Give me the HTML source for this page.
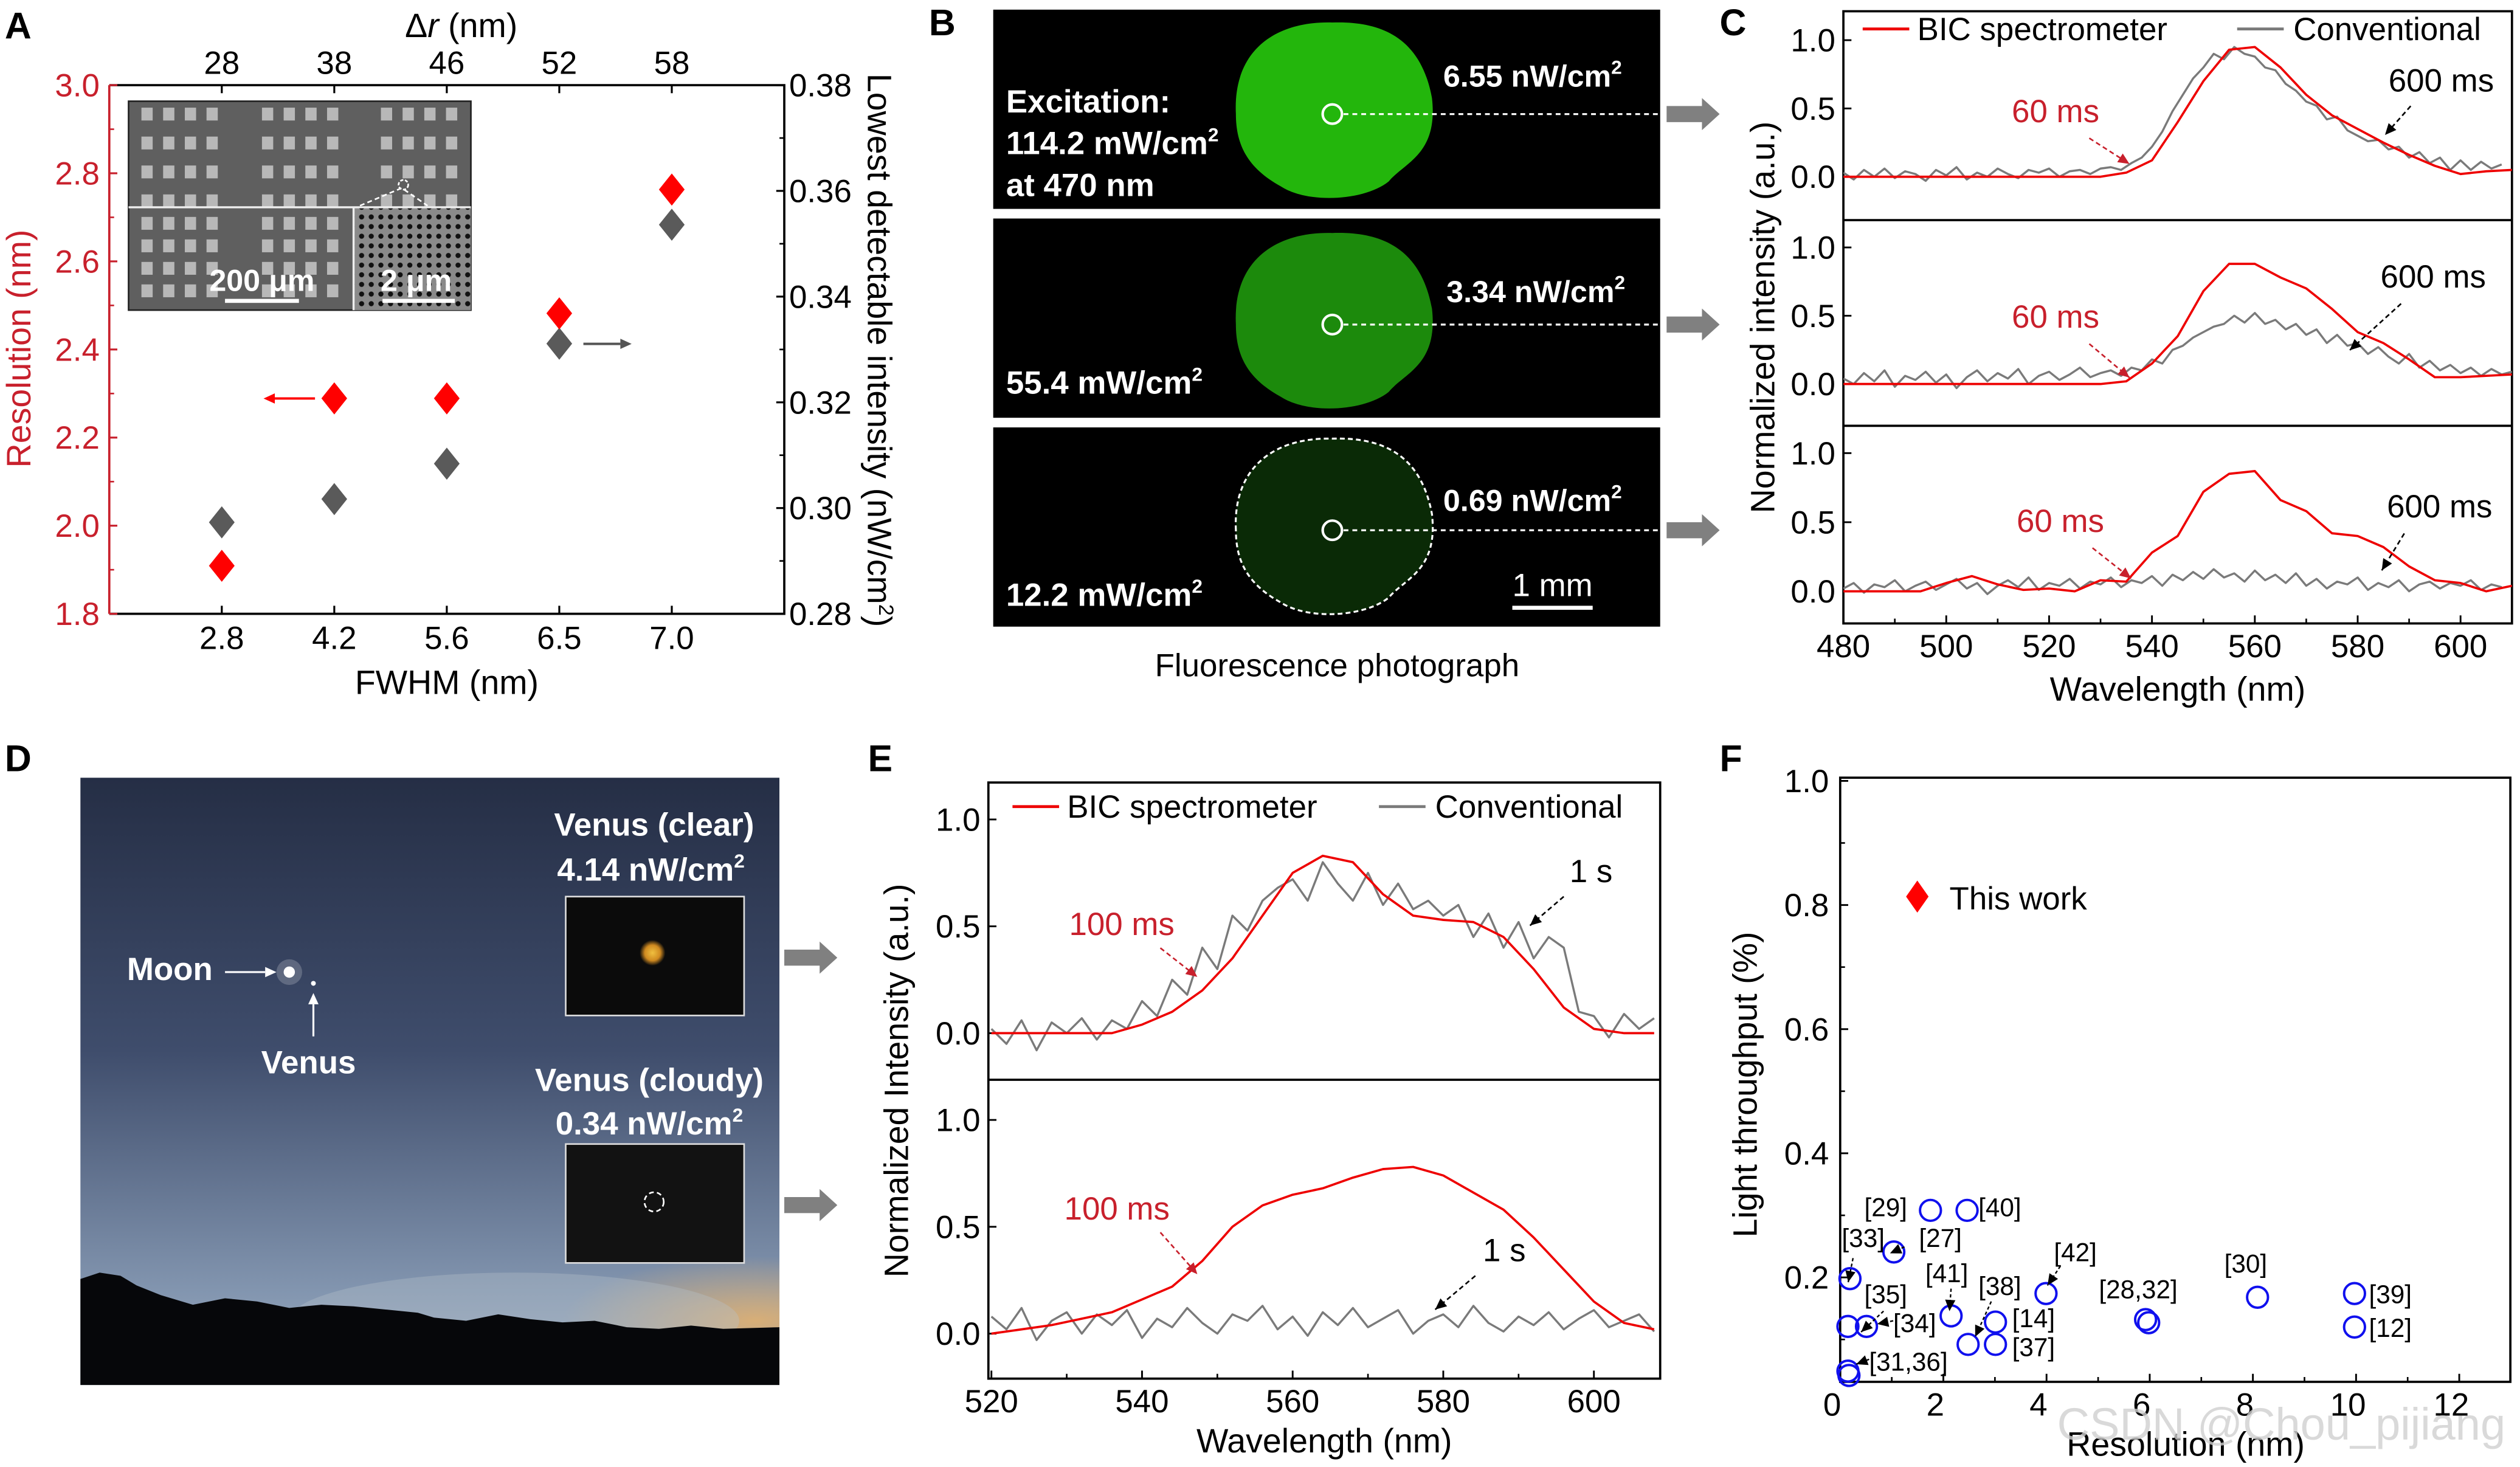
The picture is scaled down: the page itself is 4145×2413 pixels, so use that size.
<!DOCTYPE html>
<html><head><meta charset="utf-8">
<style>
html,body{margin:0;padding:0;background:#fff;}
svg{display:block;font-family:"Liberation Sans",Arial,sans-serif;}
</style></head>
<body>
<svg id="fig" xmlns="http://www.w3.org/2000/svg" width="4145" height="2413" viewBox="0 0 1568 913" preserveAspectRatio="none">
<defs>
  <linearGradient id="sky" x1="0" y1="0" x2="0" y2="1">
    <stop offset="0" stop-color="#252e45"/>
    <stop offset="0.45" stop-color="#3f4d6c"/>
    <stop offset="0.85" stop-color="#8396b0"/>
    <stop offset="1" stop-color="#a0aec0"/>
  </linearGradient>
  <radialGradient id="glow" cx="0.5" cy="0.5" r="0.5">
    <stop offset="0" stop-color="#e0b070" stop-opacity="0.9"/>
    <stop offset="1" stop-color="#e0b070" stop-opacity="0"/>
  </radialGradient>
  <radialGradient id="venus" cx="0.5" cy="0.5" r="0.5">
    <stop offset="0" stop-color="#f0c040"/>
    <stop offset="0.6" stop-color="#d08a20"/>
    <stop offset="1" stop-color="#d08a20" stop-opacity="0"/>
  </radialGradient>
  <pattern id="holes" width="6" height="6" patternUnits="userSpaceOnUse">
    <rect width="6" height="6" fill="#8a8a8a"/>
    <circle cx="3" cy="3" r="1.6" fill="#111"/>
  </pattern>
  <clipPath id="clipC"><rect x="1147" y="7" width="416" height="381"/></clipPath>
  <clipPath id="clipE"><rect x="615" y="487" width="418" height="371"/></clipPath>
  <clipPath id="clipD"><rect x="50" y="484" width="435" height="378"/></clipPath>
</defs>
<g id="root"></g>
</svg>
<script>
// ---------- DATA ----------
// Panel A
const aCats = ['2.8','4.2','5.6','6.5','7.0'];
const aTopCats = ['28','38','46','52','58'];
const aResolution = [1.909, 2.289, 2.289, 2.482, 2.763];
const aIntensity = [0.2973, 0.3017, 0.3084, 0.3311, 0.3536];
const aLeftTicks = [1.8, 2.0, 2.2, 2.4, 2.6, 2.8, 3.0];
const aRightTicks = [0.28, 0.30, 0.32, 0.34, 0.36, 0.38];
// Panel C (3 stacked spectra)
const cRedX = [480,485,490,495,500,505,510,515,520,525,530,535,540,545,550,555,560,565,570,575,580,585,590,595,600,605,610];
const cRed1 = [0,0,0,0,0,0,0,0,0,0,0,0.03,0.12,0.4,0.7,0.93,0.95,0.8,0.6,0.45,0.35,0.25,0.16,0.08,0.02,0.04,0.05];
const cRed2 = [0,0,0,0,0,0,0,0,0,0,0,0.02,0.15,0.35,0.68,0.88,0.88,0.78,0.7,0.55,0.38,0.3,0.18,0.05,0.05,0.06,0.07];
const cRed3 = [0,0,0,0,0.06,0.11,0.05,0.01,0.02,0,0.08,0.07,0.28,0.4,0.72,0.85,0.87,0.66,0.58,0.42,0.4,0.32,0.18,0.08,0.06,0,0.04];
const cGrayStart = 480, cGrayStep = 2;
const cGray1 = [0.03,-0.02,0.05,0.0,0.06,-0.01,0.04,0.02,-0.03,0.05,0.01,0.07,-0.02,0.03,0.0,0.06,0.02,-0.01,0.05,0.03,0.06,0.0,0.04,0.05,0.02,0.06,0.07,0.05,0.1,
 0.14,0.22,0.33,0.48,0.6,0.72,0.8,0.9,0.86,0.95,0.9,0.88,0.8,0.78,0.68,0.63,0.55,0.52,0.42,0.44,0.34,0.3,0.26,0.27,0.2,0.22,0.14,0.18,0.1,0.14,0.05,0.12,0.05,0.11,0.06,0.09];
const cGray2 = [0.04,0.0,0.08,0.02,0.1,-0.02,0.06,0.03,0.09,0.01,0.07,-0.03,0.05,0.1,0.02,0.08,0.04,0.11,0.0,0.06,0.09,0.03,0.07,0.12,0.05,0.08,0.1,0.06,0.12,
 0.1,0.18,0.15,0.25,0.28,0.34,0.38,0.42,0.44,0.5,0.45,0.52,0.44,0.47,0.4,0.44,0.36,0.4,0.3,0.36,0.28,0.3,0.22,0.27,0.2,0.15,0.22,0.12,0.17,0.1,0.14,0.08,0.12,0.06,0.11,0.07,0.09];
const cGray3 = [0.02,0.06,-0.01,0.05,0.03,0.08,0.0,0.04,0.07,0.01,0.05,0.09,0.02,0.06,-0.02,0.04,0.08,0.03,0.1,0.01,0.06,0.04,0.09,0.02,0.07,0.05,0.1,0.03,0.08,
 0.06,0.11,0.04,0.12,0.08,0.14,0.09,0.16,0.1,0.13,0.07,0.15,0.08,0.12,0.06,0.13,0.04,0.09,0.02,0.07,0.05,0.1,0.01,0.06,0.03,0.08,0.0,0.05,0.07,0.02,0.06,0.04,0.08,0.01,0.05,0.03];
const cXTicks = [480,500,520,540,560,580,600];
const cYTicks = [0.0, 0.5, 1.0];
// Panel E
const eRedX = [520,524,528,532,536,540,544,548,552,556,560,564,568,572,576,580,584,588,592,596,600,604,608];
const eRedTop = [0,0,0,0,0,0.04,0.1,0.2,0.35,0.55,0.75,0.83,0.8,0.65,0.55,0.53,0.52,0.45,0.3,0.12,0.02,0,0];
const eRedBottom = [0,0.02,0.04,0.07,0.1,0.16,0.22,0.34,0.5,0.6,0.65,0.68,0.73,0.77,0.78,0.74,0.66,0.58,0.45,0.3,0.15,0.05,0.02];
const eGrayStart = 520, eGrayStep = 2;
const eGrayTop = [0.02,-0.05,0.06,-0.08,0.05,0.0,0.07,-0.03,0.06,0.02,0.15,0.08,0.25,0.18,0.4,0.3,0.55,0.48,0.62,0.68,0.72,0.62,0.8,0.7,0.62,0.75,0.6,0.7,0.58,0.62,0.55,0.6,0.45,0.56,0.4,0.52,0.35,0.45,0.4,0.1,0.08,-0.02,0.09,0.02,0.07];
const eGrayBottom = [0.08,0.02,0.12,-0.03,0.06,0.1,0.0,0.09,0.04,0.11,-0.02,0.07,0.03,0.12,0.05,0.0,0.09,0.06,0.13,0.02,0.08,-0.01,0.1,0.04,0.12,0.03,0.07,0.11,0.0,0.06,0.09,0.03,0.13,0.05,0.01,0.08,0.04,0.1,0.02,0.07,0.11,0.03,0.06,0.09,0.01];
const eXTicks = [520,540,560,580,600];
const eYTicks = [0.0, 0.5, 1.0];
// Panel F
const fRefs = ['[29]','[40]','[27]','[33]','[35]','[34]','[41]','[14]','[38]','[37]','[42]','[28]','[32]','[30]','[39]','[12]','[31]','[36]'];
const fResolution = [1.75,2.46,1.04,0.19,0.51,0.15,2.15,3.01,2.48,3.01,3.99,5.92,5.98,8.09,9.97,9.97,0.15,0.17];
const fThroughput = [0.308,0.308,0.241,0.198,0.121,0.121,0.138,0.128,0.092,0.092,0.174,0.132,0.127,0.168,0.174,0.12,0.049,0.042];
const fXTicks = [0,2,4,6,8,10,12];
const fYTicks = [0.2,0.4,0.6,0.8,1.0];

// ---------- HELPERS ----------
const NS = 'http://www.w3.org/2000/svg';
const root = document.getElementById('root');
function mk(tag, attrs, parent){ const e=document.createElementNS(NS,tag); for(const k in attrs) e.setAttribute(k, attrs[k]); (parent||root).appendChild(e); return e; }
function txt(x,y,s,size,opts,parent){ opts=opts||{}; const e=mk('text',{x:x,y:y,'font-size':size,fill:opts.fill||'#000','text-anchor':opts.anchor||'start','font-weight':opts.weight||'normal'},parent); if(opts.rot) e.setAttribute('transform','rotate('+opts.rot+' '+x+' '+y+')'); e.textContent=s; return e; }
function lin(d0,d1,r0,r1){ return v => r0 + (v-d0)/(d1-d0)*(r1-r0); }
function pathFrom(xs, ys, sx, sy){ let d=''; for(let i=0;i<xs.length;i++){ d += (i?'L':'M') + sx(xs[i]).toFixed(2)+','+sy(ys[i]).toFixed(2); } return d; }
function arrowHead(x1,y1,x2,y2,color,parent){ const a=Math.atan2(y2-y1,x2-x1), L=7, W=3.2; const p=[[x2,y2],[x2-L*Math.cos(a)+W*Math.sin(a), y2-L*Math.sin(a)-W*Math.cos(a)],[x2-L*Math.cos(a)-W*Math.sin(a), y2-L*Math.sin(a)+W*Math.cos(a)]]; return mk('polygon',{points:p.map(q=>q.join(',')).join(' '),fill:color},parent); }
function fatArrow(x,y,parent){ return mk('polygon',{points:[[x,y-5],[x+22,y-5],[x+22,y-10],[x+33,y],[x+22,y+10],[x+22,y+5],[x,y+5]].map(q=>q.join(',')).join(' '),fill:'#808080'},parent); }

// ---------- PANEL LABELS ----------
const panelLabels=[['A',3,24],['B',578,22],['C',1070,22],['D',3,480],['E',540,480],['F',1070,480]];
panelLabels.forEach(p=>{
  const t=txt(p[1],p[2],p[0],23,{weight:'bold'});
  
  
});

// ---------- PANEL A ----------
(function(){
  const g=mk('g',{});
  
  
  const L=68,R=488,T=53,B=382;
  const sx = i => 138 + i*70;
  const syL = lin(1.8,3.0,B,T), syR = lin(0.28,0.38,B,T);
  const box=mk('path',{d:`M${L},${T}H${R}V${B}H${L}`,fill:'none',stroke:'#000','stroke-width':1.4},g);
  
  
  const ls=mk('line',{x1:L,y1:T,x2:L,y2:B,stroke:'#c8202c','stroke-width':1.4},g);
  
  
  const ins=mk('g',{},g);
  
  
  mk('rect',{x:80,y:63,width:213,height:130,fill:'#5f5f5f',stroke:'#222','stroke-width':1},ins);
  mk('rect',{x:220,y:129,width:73,height:64,fill:'url(#holes)'},ins);
  const gx=[88,163,237];
  for(let gi=0;gi<3;gi++) for(let r=0;r<4;r++) for(let c=0;c<4;c++) mk('rect',{x:gx[gi]+c*13.5,y:67+r*18,width:7,height:8,fill:'#b8b8b8'},ins);
  for(let gi=0;gi<2;gi++) for(let r=0;r<4;r++) for(let c=0;c<4;c++) mk('rect',{x:gx[gi]+c*13.5,y:135+r*14,width:7,height:8,fill:'#b8b8b8'},ins);
  mk('line',{x1:80,y1:129,x2:293,y2:129,stroke:'#eee','stroke-width':1.3},ins);
  mk('line',{x1:220,y1:129,x2:220,y2:193,stroke:'#eee','stroke-width':1.3},ins);
  mk('path',{d:'M224,128L250,117L266,128',fill:'none',stroke:'#fff','stroke-width':1,'stroke-dasharray':'3 2'},ins);
  mk('circle',{cx:251,cy:115,r:3,fill:'none',stroke:'#fff','stroke-width':1,'stroke-dasharray':'2 1'},ins);
  const s1=txt(163,181,'200 μm',19,{fill:'#fff',weight:'bold',anchor:'middle'},ins);
  
  
  mk('rect',{x:140,y:186,width:46,height:2.5,fill:'#fff'},ins);
  const s2=txt(259,181,'2 μm',19,{fill:'#fff',weight:'bold',anchor:'middle'},ins);
  
  
  mk('rect',{x:238,y:186,width:45,height:2.5,fill:'#fff'},ins);
  aLeftTicks.forEach(v=>{
    const y=syL(v);
    mk('line',{x1:L,y1:y,x2:L+5,y2:y,stroke:'#c8202c','stroke-width':1.2},g);
    const t=txt(L-6,y+7,v.toFixed(1),20,{fill:'#c8202c',anchor:'end'},g);
    
    
  });
  for(let v=1.9; v<3.0; v+=0.2){ const y=syL(v); mk('line',{x1:L,y1:y,x2:L+3,y2:y,stroke:'#c8202c','stroke-width':1},g); }
  aRightTicks.forEach(v=>{
    const y=syR(v);
    mk('line',{x1:R,y1:y,x2:R-5,y2:y,stroke:'#000','stroke-width':1.2},g);
    const t=txt(R+3,y+7,v.toFixed(2),20,{},g);
    
    
  });
  for(let v=0.29; v<0.38; v+=0.02){ const y=syR(v); mk('line',{x1:R,y1:y,x2:R-3,y2:y,stroke:'#000','stroke-width':1},g); }
  aCats.forEach((c,i)=>{
    const x=sx(i);
    mk('line',{x1:x,y1:B,x2:x,y2:B-5,stroke:'#000','stroke-width':1.2},g);
    const t=txt(x,404,c,20,{anchor:'middle'},g);
    
    
  });
  aTopCats.forEach((c,i)=>{
    const x=sx(i);
    mk('line',{x1:x,y1:T,x2:x,y2:T+5,stroke:'#000','stroke-width':1.2},g);
    const t=txt(x,46,c,20,{anchor:'middle'},g);
    
    
  });
  const xt=txt(278,432,'FWHM (nm)',21,{anchor:'middle'},g);
  
  
  const tt=mk('text',{x:287,y:23,'font-size':21,'text-anchor':'middle'},g);
  tt.innerHTML='Δ<tspan font-style="italic">r</tspan> (nm)';
  
  
  const yl=txt(19,217,'Resolution (nm)',21,{fill:'#c8202c',anchor:'middle',rot:-90},g);
  
  
  const yr=mk('text',{x:540,y:218,'font-size':21,'text-anchor':'middle',transform:'rotate(90 540 218)'},g);
  yr.innerHTML='Lowest detectable intensity (nW/cm<tspan font-size="13" dy="-7">2</tspan><tspan dy="7">)</tspan>';
  
  
  aIntensity.forEach((v,i)=>{
    const x=sx(i), y=syR(v);
    const d=mk('polygon',{points:`${x},${y-10} ${x+8},${y} ${x},${y+10} ${x-8},${y}`,fill:'#5a5a5a'},g);
    
    
  });
  aResolution.forEach((v,i)=>{
    const x=sx(i), y=syL(v);
    const d=mk('polygon',{points:`${x},${y-10} ${x+8},${y} ${x},${y+10} ${x-8},${y}`,fill:'#ff0000'},g);
    
    
  });
  mk('line',{x1:196,y1:248,x2:170,y2:248,stroke:'#ff0000','stroke-width':1.5},g);
  arrowHead(196,248,164,248,'#ff0000',g);
  mk('line',{x1:363,y1:214,x2:386,y2:214,stroke:'#555','stroke-width':1.5},g);
  arrowHead(363,214,393,214,'#555',g);
})();

// ---------- PANEL B ----------
(function(){
  const g=mk('g',{});
  
  
  const rows=[[6,130,'#23b60c',null],[136,260,'#1c8a0c',null],[266,390,'#0a2a06','dash']];
  rows.forEach((r,i)=>{
    const rc=mk('rect',{x:618,y:r[0],width:415,height:r[1]-r[0],fill:'#000'},g);
    
    
    const cy=(r[0]+r[1])/2 + (i==0?3:i==1?4:2);
    const cx=829;
    const blob=`M${cx-60},${cy} C${cx-62},${cy-40} ${cx-35},${cy-58} ${cx},${cy-57} C${cx+30},${cy-58} ${cx+55},${cy-48} ${cx+62},${cy-10} C${cx+66},${cy+25} ${cx+45},${cy+30} ${cx+35},${cy+42} C${cx+20},${cy+54} ${cx-15},${cy+56} ${cx-32},${cy+45} C${cx-52},${cy+34} ${cx-60},${cy+20} ${cx-60},${cy}Z`;
    const b=mk('path',{d:blob,fill:r[2]},g);
    if(r[3]){ b.setAttribute('stroke','#fff'); b.setAttribute('stroke-dasharray','3 2'); b.setAttribute('stroke-width','1.2'); }
    
    
    mk('circle',{cx:cx,cy:cy,r:6,fill:'none',stroke:'#fff','stroke-width':1.6},g);
    mk('line',{x1:cx+7,y1:cy,x2:1032,y2:cy,stroke:'#fff','stroke-width':1.2,'stroke-dasharray':'3 2.5'},g);
    const ar=fatArrow(1037,cy,g);
    
    
  });
  function sup(x,y,base,size,anchor){ const t=mk('text',{x:x,y:y,'font-size':size,fill:'#fff','font-weight':'bold','text-anchor':anchor||'start'},g); t.innerHTML=base+'<tspan font-size="12" dy="-8">2</tspan>'; return t; }
  let t;
  t=txt(626,70,'Excitation:',20,{fill:'#fff',weight:'bold'},g);  
  t=sup(626,96,'114.2 mW/cm',20);  
  t=txt(626,122,'at 470 nm',20,{fill:'#fff',weight:'bold'},g);  
  t=sup(898,54,'6.55 nW/cm',19);  
  t=sup(900,188,'3.34 nW/cm',19);  
  t=sup(626,245,'55.4 mW/cm',20);  
  t=sup(898,318,'0.69 nW/cm',19);  
  t=sup(626,377,'12.2 mW/cm',20);  
  t=txt(966,371,'1 mm',20,{fill:'#fff',anchor:'middle'},g);  
  mk('rect',{x:941,y:377,width:50,height:2.5,fill:'#fff'},g);
  t=txt(832,421,'Fluorescence photograph',20,{anchor:'middle'},g);  
})();

// ---------- SPECTRUM PANEL BUILDER ----------
function spectrum(opts){
  const g=mk('g',{});
  
  
  const sx=lin(opts.x0,opts.x1,opts.L,opts.R);
  mk('rect',{x:opts.L,y:opts.T,width:opts.R-opts.L,height:opts.B-opts.T,fill:'none',stroke:'#000','stroke-width':1.4},g);
  opts.dividers.forEach(y=>mk('line',{x1:opts.L,y1:y,x2:opts.R,y2:y,stroke:'#000','stroke-width':1.4},g));
  opts.subs.forEach((s,si)=>{
    const sy=lin(0,1,s.y0,s.y1);
    opts.yTicks.forEach(v=>{
      const y=sy(v);
      mk('line',{x1:opts.L,y1:y,x2:opts.L+5,y2:y,stroke:'#000','stroke-width':1.1},g);
      const t=txt(opts.L-5,y+7,v.toFixed(1),opts.fs,{anchor:'end'},g);
      
      
    });
    const gx=s.gray.map((v,i)=>opts.gStart+i*opts.gStep);
    const gp=mk('path',{d:pathFrom(gx,s.gray,sx,sy),fill:'none',stroke:'#7a7a7a','stroke-width':1.3,'stroke-linejoin':'round','clip-path':opts.clip},g);
    
    
    const rp=mk('path',{d:pathFrom(opts.redX,s.red,sx,sy),fill:'none',stroke:'#ee0000','stroke-width':1.4,'stroke-linejoin':'round','clip-path':opts.clip},g);
    
    
    s.ann.forEach(a=>{
      const t=txt(a.tx,a.ty,a.text,opts.fs,{fill:a.color,anchor:'middle'},g);
      
      
      mk('line',{x1:a.x1,y1:a.y1,x2:a.x2,y2:a.y2,stroke:a.color,'stroke-width':1,'stroke-dasharray':'3 2'},g);
      arrowHead(a.x1,a.y1,a.x2,a.y2,a.color,g);
    });
  });
  opts.xTicks.forEach(v=>{
    const x=sx(v);
    mk('line',{x1:x,y1:opts.B,x2:x,y2:opts.B-5,stroke:'#000','stroke-width':1.1},g);
    const t=txt(x,opts.xLabY,String(v),opts.fs,{anchor:'middle'},g);
    
    
  });
  for(let v=opts.xTicks[0]+10; v<opts.x1; v+=20){ const x=sx(v); mk('line',{x1:x,y1:opts.B,x2:x,y2:opts.B-3,stroke:'#000','stroke-width':1},g); }
  const xt=txt((opts.L+opts.R)/2,opts.xTitleY,'Wavelength (nm)',opts.fs+1,{anchor:'middle'},g);
  
  
  const yt=txt(opts.yTitleX,(opts.T+opts.B)/2,opts.yTitle,opts.fs+1,{anchor:'middle',rot:-90},g);
  
  
  const lg=mk('g',{},g);
  
  
  mk('line',{x1:opts.leg[0],y1:opts.leg[1],x2:opts.leg[0]+29,y2:opts.leg[1],stroke:'#ee0000','stroke-width':1.8},lg);
  const l1=txt(opts.leg[0]+34,opts.leg[1]+7,'BIC spectrometer',opts.fs,{},lg);
  
  
  mk('line',{x1:opts.leg[2],y1:opts.leg[1],x2:opts.leg[2]+29,y2:opts.leg[1],stroke:'#7a7a7a','stroke-width':1.8},lg);
  const l2=txt(opts.leg[2]+35,opts.leg[1]+7,'Conventional',opts.fs,{},lg);
  
  
}

// ---------- PANEL C ----------
spectrum({name:'panel-c-chart',x0:480,x1:610,L:1147,R:1563,T:7,B:388,dividers:[137,265],fs:20,
  yTicks:cYTicks,xTicks:cXTicks,redX:cRedX,gStart:cGrayStart,gStep:cGrayStep,clip:'url(#clipC)',
  xLabY:409,xTitleY:436,yTitleX:1104,yTitle:'Normalized intensity (a.u.)',leg:[1159,18,1392],
  subs:[
    {y0:110,y1:25,red:cRed1,gray:cGray1,ann:[{tx:1279,ty:76,text:'60 ms',color:'#c8202c',x1:1300,y1:86,x2:1325,y2:102},{tx:1519,ty:57,text:'600 ms',color:'#000',x1:1500,y1:66,x2:1484,y2:84}]},
    {y0:239,y1:154,red:cRed2,gray:cGray2,ann:[{tx:1279,ty:204,text:'60 ms',color:'#c8202c',x1:1300,y1:214,x2:1325,y2:235},{tx:1514,ty:179,text:'600 ms',color:'#000',x1:1494,y1:189,x2:1462,y2:218}]},
    {y0:368,y1:282,red:cRed3,gray:cGray3,ann:[{tx:1282,ty:331,text:'60 ms',color:'#c8202c',x1:1302,y1:341,x2:1326,y2:360},{tx:1518,ty:322,text:'600 ms',color:'#000',x1:1496,y1:332,x2:1482,y2:355}]}
  ]});

// ---------- PANEL E ----------
spectrum({name:'panel-e-chart',x0:519.6,x1:608.8,L:615,R:1033,T:487,B:858,dividers:[672],fs:20,
  yTicks:eYTicks,xTicks:eXTicks,redX:eRedX,gStart:eGrayStart,gStep:eGrayStep,clip:'url(#clipE)',
  xLabY:879,xTitleY:904,yTitleX:565,yTitle:'Normalized Intensity (a.u.)',leg:[630,502,858],
  subs:[
    {y0:643,y1:510,red:eRedTop,gray:eGrayTop,ann:[{tx:698,ty:582,text:'100 ms',color:'#c8202c',x1:722,y1:590,x2:745,y2:608},{tx:990,ty:549,text:'1 s',color:'#000',x1:973,y1:558,x2:952,y2:576}]},
    {y0:830,y1:697,red:eRedBottom,gray:eGrayBottom,ann:[{tx:695,ty:759,text:'100 ms',color:'#c8202c',x1:722,y1:767,x2:745,y2:793},{tx:936,ty:785,text:'1 s',color:'#000',x1:918,y1:794,x2:893,y2:815}]}
  ]});

// ---------- PANEL D ----------
(function(){
  const g=mk('g',{'clip-path':'url(#clipD)'});
  
  
  mk('rect',{x:50,y:484,width:435,height:378,fill:'url(#sky)'},g);
  mk('ellipse',{cx:470,cy:822,rx:120,ry:40,fill:'url(#glow)'},g);
  mk('ellipse',{cx:320,cy:822,rx:140,ry:30,fill:'#b8c4cc','fill-opacity':0.35},g);
  const hills=mk('path',{d:'M50,796 L62,792 L75,794 L85,800 L100,806 L120,812 L140,808 L160,810 L180,814 L200,812 L220,813 L240,815 L260,817 L270,820 L290,822 L310,818 L330,821 L350,823 L370,822 L390,826 L410,827 L430,825 L450,827 L485,826 L485,862 L50,862 Z',fill:'#06070a'},g);
  
  
  const moon=mk('circle',{cx:180,cy:605,r:3.5,fill:'#fff'},g);
  
  
  mk('circle',{cx:180,cy:605,r:8,fill:'#fff','fill-opacity':0.2},g);
  const ven=mk('circle',{cx:195,cy:612,r:1.5,fill:'#fff'},g);
  
  
  let t;
  t=txt(79,610,'Moon',20,{fill:'#fff',weight:'bold'},g);  
  mk('line',{x1:140,y1:605,x2:165,y2:605,stroke:'#fff','stroke-width':1.2},g); arrowHead(140,605,172,605,'#fff',g);
  mk('line',{x1:195,y1:645,x2:195,y2:625,stroke:'#fff','stroke-width':1.2},g); arrowHead(195,645,195,618,'#fff',g);
  t=txt(192,668,'Venus',20,{fill:'#fff',weight:'bold',anchor:'middle'},g);  
  t=txt(407,520,'Venus (clear)',20,{fill:'#fff',weight:'bold',anchor:'middle'},g);  
  t=mk('text',{x:405,y:548,'font-size':20,fill:'#fff','font-weight':'bold','text-anchor':'middle'},g); t.innerHTML='4.14 nW/cm<tspan font-size="12" dy="-8">2</tspan>';
   
  const i1=mk('rect',{x:352,y:558,width:111,height:74,fill:'#0b0b0b',stroke:'#ddd','stroke-width':1},g);
   
  mk('circle',{cx:406,cy:593,r:8,fill:'url(#venus)'},g);
  t=txt(404,679,'Venus (cloudy)',20,{fill:'#fff',weight:'bold',anchor:'middle'},g);  
  t=mk('text',{x:404,y:706,'font-size':20,fill:'#fff','font-weight':'bold','text-anchor':'middle'},g); t.innerHTML='0.34 nW/cm<tspan font-size="12" dy="-8">2</tspan>';
   
  const i2=mk('rect',{x:352,y:712,width:111,height:74,fill:'#121212',stroke:'#ddd','stroke-width':1},g);
   
  mk('circle',{cx:407,cy:748,r:6,fill:'none',stroke:'#fff','stroke-width':1,'stroke-dasharray':'3 2'},g);
  const a1=fatArrow(488,596);  
  const a2=fatArrow(488,750);  
})();

// ---------- PANEL F ----------
(function(){
  const g=mk('g',{});
  
  
  const L=1145,R=1562,T=484,B=860;
  const sx=lin(0,1,L,L+32.1), sy=lin(0.2,0.4,795,717.75);
  mk('rect',{x:L,y:T,width:R-L,height:B-T,fill:'none',stroke:'#000','stroke-width':1.4},g);
  fXTicks.forEach(v=>{
    const x=sx(v);
    mk('line',{x1:x,y1:B,x2:x,y2:B-5,stroke:'#000','stroke-width':1.1},g);
    const t=txt(x-5,881,String(v),20,{anchor:'middle'},g);
    
    
    if(v<12){ const xm=sx(v+1); mk('line',{x1:xm,y1:B,x2:xm,y2:B-3,stroke:'#000','stroke-width':1},g); }
  });
  fYTicks.forEach(v=>{
    const y=sy(v);
    mk('line',{x1:L,y1:y,x2:L+5,y2:y,stroke:'#000','stroke-width':1.1},g);
    const t=txt(L-7,y+7,v.toFixed(1),20,{anchor:'end'},g);
    
    
    const ym=sy(v-0.1); mk('line',{x1:L,y1:ym,x2:L+3,y2:ym,stroke:'#000','stroke-width':1},g);
  });
  let t=txt(1360,906,'Resolution (nm)',21,{anchor:'middle'},g);  
  t=txt(1093,675,'Light throughput (%)',21,{anchor:'middle',rot:-90},g);  
  fResolution.forEach((v,i)=>{
    const c=mk('circle',{cx:sx(v),cy:sy(fThroughput[i]),r:6.5,fill:'none',stroke:'#1010ee','stroke-width':1.5},g);
    
    
  });
  const labs=[['[29]',1160,757],['[40]',1231,757],['[33]',1146,776],['[27]',1194,776],['[42]',1278,785],['[41]',1198,798],['[38]',1231,806],['[28,32]',1306,808],['[30]',1384,792],['[35]',1160,811],['[39]',1474,811],['[14]',1252,826],['[34]',1178,829],['[12]',1474,832],['[37]',1252,844],['[31,36]',1163,853]];
  labs.forEach(l=>{
    const tt=txt(l[1],l[2],l[0],16,{},g);
    
    
  });
  [[1172,816,1158,829],[1153,783,1150,798],[1185,776,1176,780],[1214,802,1213,816],[1239,810,1229,832],[1282,788,1274,800],[1178,822,1168,824],[1163,846,1155,849]].forEach(a=>{
    mk('line',{x1:a[0],y1:a[1],x2:a[2],y2:a[3],stroke:'#000','stroke-width':0.9,'stroke-dasharray':'2 1.5'},g);
    arrowHead(a[0],a[1],a[2],a[3],'#000',g);
  });
  const d=mk('polygon',{points:'1193,548 1200,558 1193,568 1186,558',fill:'#ff0000'},g);
  
  
  t=txt(1213,566,'This work',20,{},g);  
  t=txt(1280,896,'CSDN @Chou_pijiang',28,{fill:'#d0d0d0'},g); t.setAttribute('fill-opacity','0.8');  
})();
</script>
</body></html>
